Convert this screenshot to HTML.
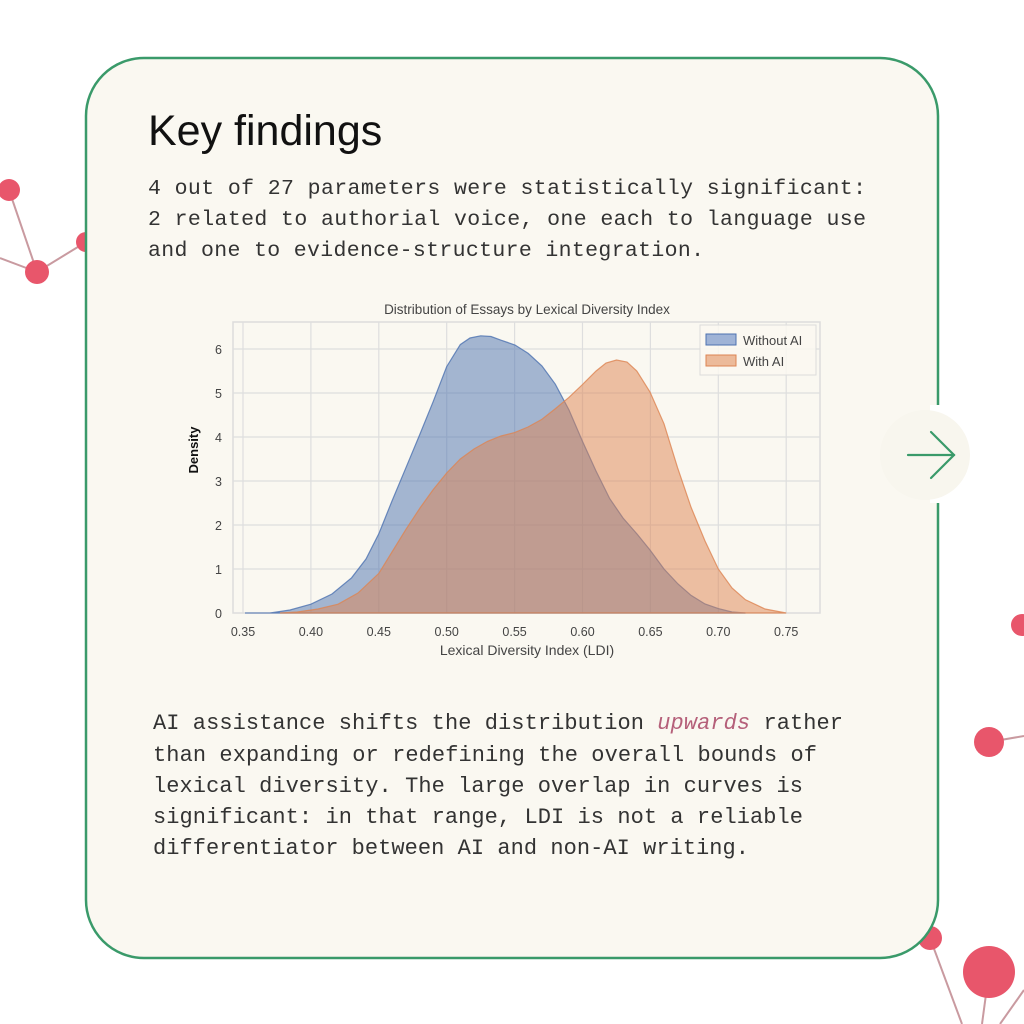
<!DOCTYPE html>
<html><head><meta charset="utf-8"><style>html,body{margin:0;padding:0;background:#fff}svg{display:block}</style></head>
<body>
<svg width="1024" height="1024" viewBox="0 0 1024 1024" xmlns="http://www.w3.org/2000/svg">
<rect width="1024" height="1024" fill="#ffffff"/>
<g stroke="#c99aa0" stroke-width="2" fill="none">
<line x1="9" y1="190" x2="37" y2="272"/><line x1="0" y1="258" x2="37" y2="272"/><line x1="37" y1="272" x2="86" y2="242"/>
<line x1="989" y1="742" x2="1024" y2="736"/>
<line x1="930" y1="938" x2="962" y2="1024"/><line x1="989" y1="972" x2="982" y2="1024"/><line x1="1024" y1="990" x2="1000" y2="1024"/>
</g>
<g fill="#e8566b">
<circle cx="9" cy="190" r="11"/><circle cx="37" cy="272" r="12"/><circle cx="86" cy="242" r="10"/>
<circle cx="1022" cy="625" r="11"/><circle cx="989" cy="742" r="15"/>
<circle cx="930" cy="938" r="12"/><circle cx="989" cy="972" r="26"/>
</g>
<rect x="86" y="58" width="852" height="900" rx="58" fill="#faf8f1" stroke="#3a9a6a" stroke-width="2.5"/>
<rect x="930" y="405" width="20" height="98" fill="#ffffff"/>
<circle cx="925" cy="455" r="45" fill="#f8f6ee"/>
<g stroke="#3a9a6a" stroke-width="2.2" fill="none" stroke-linecap="round">
<line x1="908" y1="455" x2="954" y2="455"/><polyline points="931,432 954,455 931,478"/>
</g>
<text x="148" y="145" font-family="Liberation Sans, sans-serif" font-size="43" fill="#111">Key findings</text>
<g font-family="Liberation Mono, monospace" font-size="21.5" fill="#333">
<text x="148" y="194" textLength="718">4 out of 27 parameters were statistically significant:</text>
<text x="148" y="225" textLength="718">2 related to authorial voice, one each to language use</text>
<text x="148" y="256" textLength="556">and one to evidence-structure integration.</text>
</g>
<g font-family="Liberation Mono, monospace" font-size="22" fill="#333">
<text x="153" y="729" textLength="690">AI assistance shifts the distribution <tspan fill="#b5607a" font-style="italic">upwards</tspan> rather</text>
<text x="153" y="761" textLength="664">than expanding or redefining the overall bounds of</text>
<text x="153" y="792" textLength="650">lexical diversity. The large overlap in curves is</text>
<text x="153" y="823" textLength="650">significant: in that range, LDI is not a reliable</text>
<text x="153" y="854" textLength="596">differentiator between AI and non-AI writing.</text>
</g>
<!-- chart -->
<rect x="233" y="322" width="587" height="291" fill="#faf8f1" stroke="#dcdcdc" stroke-width="1.5"/>
<g stroke="#dedede" stroke-width="1.2">
<line x1="243" y1="322" x2="243" y2="613"/><line x1="310.9" y1="322" x2="310.9" y2="613"/><line x1="378.8" y1="322" x2="378.8" y2="613"/><line x1="446.7" y1="322" x2="446.7" y2="613"/><line x1="514.6" y1="322" x2="514.6" y2="613"/><line x1="582.5" y1="322" x2="582.5" y2="613"/><line x1="650.4" y1="322" x2="650.4" y2="613"/><line x1="718.3" y1="322" x2="718.3" y2="613"/><line x1="786.2" y1="322" x2="786.2" y2="613"/>
<line x1="233" y1="569" x2="820" y2="569"/><line x1="233" y1="525" x2="820" y2="525"/><line x1="233" y1="481" x2="820" y2="481"/><line x1="233" y1="437" x2="820" y2="437"/><line x1="233" y1="393" x2="820" y2="393"/><line x1="233" y1="349" x2="820" y2="349"/>
</g>
<path d="M245,613 L270,613 L290,610 L310.9,604.2 L332,594 L351.6,577.8 L366,559 L378.8,533.8 L392,501 L405.9,467.8 L420,434 L433.1,401.8 L446.7,366.6 L460.3,344.6 L470,338 L480.7,335.8 L491,336.5 L501,340.2 L515,345 L528.2,353.4 L542,366 L555.3,384.2 L569,410 L582.5,441.4 L596,471 L609.7,498.6 L623,518 L636.8,533.8 L650,550 L664,569 L678,584 L691.1,595.4 L705,604 L718.3,608.6 L732,612 L745.5,613 Z" fill="#4c72b0" fill-opacity="0.5" stroke="#4c72b0" stroke-opacity="0.8" stroke-width="1.2"/>
<path d="M280,613 L297.3,612 L318,609 L338.1,604.2 L358,593 L378.8,573.4 L392,552 L405.9,529.4 L420,508 L433.1,489.8 L446.7,473 L460.3,459 L474,449 L487.4,441.4 L501,436 L514.6,432.6 L528,427 L541.8,419.4 L555,409 L568.9,397.4 L582,385 L596.1,371 L606,363 L616.5,360 L627,362 L636.8,371 L650,392 L664,423.8 L677.6,467.8 L691.1,507.4 L705,541 L718.3,569 L732,588 L745.5,599.8 L765,609 L786.2,613 Z" fill="#dd8452" fill-opacity="0.5" stroke="#dd8452" stroke-opacity="0.8" stroke-width="1.2"/>
<rect x="700" y="325" width="116" height="50" fill="#faf8f1" fill-opacity="0.85" stroke="#dcdcdc"/>
<rect x="706" y="334" width="30" height="11" fill="#9fb3d6" stroke="#4c72b0"/>
<rect x="706" y="355" width="30" height="11" fill="#ecba9a" stroke="#dd8452"/>
<g font-family="Liberation Sans, sans-serif" font-size="13" fill="#444">
<text x="743" y="345">Without AI</text><text x="743" y="366">With AI</text>
<text x="527" y="314" text-anchor="middle" font-size="13.5">Distribution of Essays by Lexical Diversity Index</text>
<text x="527" y="655" text-anchor="middle" font-size="14">Lexical Diversity Index (LDI)</text>
</g>
<g font-family="Liberation Sans, sans-serif" font-size="12.5" fill="#444" text-anchor="middle">
<text x="243" y="636">0.35</text><text x="310.9" y="636">0.40</text><text x="378.8" y="636">0.45</text><text x="446.7" y="636">0.50</text><text x="514.6" y="636">0.55</text><text x="582.5" y="636">0.60</text><text x="650.4" y="636">0.65</text><text x="718.3" y="636">0.70</text><text x="786.2" y="636">0.75</text>
</g>
<g font-family="Liberation Sans, sans-serif" font-size="12.5" fill="#444" text-anchor="end">
<text x="222" y="618">0</text><text x="222" y="574">1</text><text x="222" y="530">2</text><text x="222" y="486">3</text><text x="222" y="442">4</text><text x="222" y="398">5</text><text x="222" y="354">6</text>
</g>
<text transform="translate(198,450) rotate(-90)" text-anchor="middle" font-family="Liberation Sans, sans-serif" font-size="13" font-weight="bold" fill="#111">Density</text>
</svg>
</body></html>
